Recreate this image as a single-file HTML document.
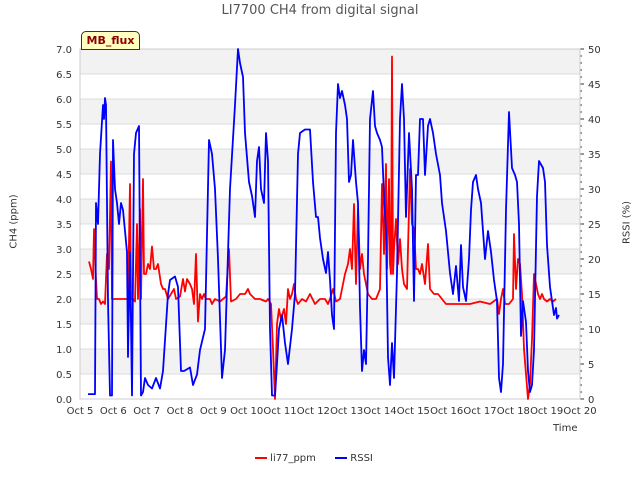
<!DOCTYPE html>
<html><head><meta charset="utf-8"><style>body{margin:0;background:#fff}svg{font-family:"DejaVu Sans","Liberation Sans",sans-serif}</style></head>
<body>
<svg id="c" width="640" height="480" xmlns="http://www.w3.org/2000/svg"></svg>
<script>
const xTickLabels=["Oct 5","Oct 6","Oct 7","Oct 8","Oct 9","Oct 10","Oct 11","Oct 12","Oct 13","Oct 14","Oct 15","Oct 16","Oct 17","Oct 18","Oct 19","Oct 20"];
const leftTicks=[0,0.5,1,1.5,2,2.5,3,3.5,4,4.5,5,5.5,6,6.5,7];
const rightTicks=[0,5,10,15,20,25,30,35,40,45,50];
const ch4Days=[0.27,0.33,0.39,0.42,0.48,0.51,0.57,0.63,0.69,0.75,0.81,0.87,0.93,0.96,1.02,1.14,1.26,1.38,1.44,1.5,1.53,1.59,1.65,1.71,1.74,1.8,1.83,1.89,1.92,1.98,2.04,2.1,2.16,2.22,2.28,2.34,2.43,2.49,2.55,2.64,2.73,2.82,2.88,3.0,3.09,3.15,3.21,3.3,3.36,3.42,3.48,3.54,3.6,3.66,3.72,3.78,3.9,3.96,4.05,4.2,4.38,4.47,4.53,4.68,4.8,4.95,5.04,5.1,5.25,5.4,5.58,5.64,5.73,5.79,5.85,5.91,5.97,6.03,6.12,6.18,6.24,6.3,6.36,6.42,6.48,6.54,6.66,6.78,6.9,7.05,7.2,7.35,7.44,7.5,7.59,7.68,7.8,7.95,8.04,8.1,8.16,8.22,8.28,8.34,8.4,8.46,8.52,8.58,8.64,8.76,8.88,9.0,9.06,9.12,9.18,9.21,9.27,9.3,9.33,9.36,9.39,9.42,9.48,9.54,9.6,9.66,9.72,9.81,9.9,9.96,10.02,10.08,10.14,10.2,10.26,10.35,10.44,10.5,10.62,10.74,10.86,10.98,11.16,11.4,11.7,12.0,12.3,12.51,12.57,12.63,12.69,12.75,12.87,12.99,13.02,13.08,13.14,13.2,13.26,13.32,13.38,13.44,13.5,13.56,13.62,13.68,13.74,13.8,13.86,13.92,14.01,14.1,14.19,14.28];
const ch4Vals=[2.75,2.6,2.4,3.4,2.4,2.0,2.0,1.9,1.95,1.9,2.9,2.6,4.75,2.0,2.0,2.0,2.0,2.0,2.0,4.3,2.0,2.0,1.95,3.5,2.0,3.8,2.0,4.4,2.5,2.5,2.7,2.6,3.05,2.6,2.6,2.7,2.3,2.2,2.2,2.0,2.1,2.2,2.0,2.05,2.4,2.15,2.4,2.3,2.2,1.9,2.9,1.55,2.1,2.0,2.1,2.0,2.0,1.9,2.0,1.95,2.05,3.0,1.95,2.0,2.1,2.1,2.2,2.1,2.0,2.0,1.95,2.0,1.9,1.0,0.0,1.5,1.8,1.6,1.8,1.5,2.2,2.0,2.1,2.3,2.0,1.9,2.0,1.95,2.1,1.9,2.0,2.0,1.9,2.0,2.2,1.95,2.0,2.5,2.7,3.0,2.6,3.9,2.3,3.8,2.6,2.9,2.5,2.3,2.1,2.0,2.0,2.2,4.3,2.9,4.7,2.6,4.4,2.7,2.5,6.85,2.5,3.0,3.6,2.7,3.2,2.6,2.3,2.2,4.6,3.5,3.4,2.6,2.6,2.5,2.7,2.3,3.1,2.2,2.1,2.1,2.0,1.9,1.9,1.9,1.9,1.95,1.9,2.0,1.7,2.0,2.2,1.9,1.9,2.0,3.3,2.2,2.8,2.7,2.1,1.0,0.5,0.0,0.3,1.2,2.5,2.3,2.1,2.0,2.1,2.0,1.95,2.0,1.95,2.0];
const rssiDays=[0.24,0.45,0.48,0.54,0.6,0.69,0.72,0.75,0.78,0.84,0.9,0.96,0.99,1.05,1.11,1.17,1.23,1.29,1.35,1.41,1.44,1.5,1.56,1.62,1.68,1.77,1.83,1.89,1.95,2.04,2.16,2.28,2.4,2.49,2.64,2.7,2.85,2.94,3.03,3.12,3.3,3.39,3.51,3.6,3.75,3.87,3.96,4.05,4.14,4.26,4.35,4.5,4.65,4.74,4.8,4.89,4.95,5.07,5.16,5.25,5.31,5.37,5.43,5.52,5.58,5.64,5.7,5.76,5.85,5.91,5.97,6.06,6.15,6.24,6.36,6.45,6.54,6.6,6.75,6.9,6.99,7.08,7.14,7.2,7.29,7.38,7.44,7.5,7.56,7.62,7.68,7.74,7.8,7.86,7.95,8.01,8.07,8.13,8.19,8.28,8.34,8.4,8.46,8.52,8.58,8.64,8.7,8.79,8.85,8.91,9.0,9.06,9.12,9.18,9.24,9.3,9.36,9.42,9.51,9.6,9.66,9.72,9.78,9.87,9.96,10.02,10.08,10.14,10.2,10.29,10.35,10.44,10.5,10.59,10.68,10.8,10.86,10.98,11.1,11.19,11.28,11.37,11.43,11.49,11.58,11.67,11.73,11.79,11.88,11.94,12.03,12.15,12.24,12.33,12.42,12.51,12.57,12.63,12.69,12.78,12.87,12.96,13.05,13.11,13.17,13.23,13.29,13.38,13.44,13.5,13.56,13.62,13.71,13.77,13.89,13.95,14.01,14.1,14.16,14.22,14.28,14.31,14.37];
const rssiVals=[0.7,0.7,28,25,35,42,40,43,42,14,0.5,0.5,37,30,28,25,28,27,24,21,6,21,0.5,35,38,39,0.5,1,3,2,1.5,3,1.5,4,15,17,17.5,16,4,4,4.5,2,3.5,7,10,37,35,30,20,3,7,30,42,50,48,46,38,31,29,26,34,36,30,28,38,34,10,0.5,0.5,5,10,12,8,5,10,15,35,38,38.5,38.5,31,26,26,23,20,18,21,17,12,10,38,45,43,44,42,40,31,32,37,31,28,13,4,7,5,20,40,44,39,38,37,36,29,24,6,2,8,3,18,40,45,40,26,38,30,14,32,32,40,40,32,39,40,38,35,32,28,24,18,15,19,14,22,16,14,20,27,31,32,30,28,20,24,21,17,14,3,1,5,27,41,33,32,31,25,9,14,11,4,1,2,7,29,34,33,31,22,16,14,12,13,11.5,12];

const svg=document.getElementById('c');const NS='http://www.w3.org/2000/svg';
const X0=80,X1=580,Y0=399,Y1=49;
const xs=d=>X0+d*(X1-X0)/15;
const yL=v=>Y0-v*(Y0-Y1)/7;
const yR=v=>Y0-v*(Y0-Y1)/50;
function el(t,a,txt){const e=document.createElementNS(NS,t);for(const k in a)e.setAttribute(k,a[k]);if(txt!==undefined)e.textContent=txt;svg.appendChild(e);return e;}
// bands
for(let i=0;i<14;i++){const e=el('rect',{x:X0,y:yL((i+1)*0.5),width:X1-X0,height:(Y0-Y1)/14,fill:i%2?'#f2f2f2':'#ffffff'});

}
leftTicks.forEach(v=>{const g=el('line',{x1:X0,x2:X1,y1:yL(v),y2:yL(v),stroke:'#dcdcdc','stroke-width':1});


const t=el('text',{x:X0-8,y:yL(v)+4,'text-anchor':'end','font-size':10,fill:'#333'},v.toFixed(1));

});
rightTicks.forEach(v=>{const t=el('text',{x:X1+8,y:yR(v)+4,'font-size':10,fill:'#333'},String(v));

});
for(let v=0;v<=50;v++){const m=el('line',{x1:X1,x2:X1+(v%5?2:4),y1:yR(v),y2:yR(v),stroke:'#333','stroke-width':1});

}
xTickLabels.forEach((s,i)=>{const t=el('text',{x:xs(i),y:Y0+15,'text-anchor':'middle','font-size':10,fill:'#333'},s);

});
const fr=el('rect',{x:X0,y:Y1,width:X1-X0,height:Y0-Y1,fill:'none',stroke:'#cccccc'});


function line(days,vals,ys,color,name){const p=days.map((d,i)=>(i?'L':'M')+xs(d).toFixed(1)+','+ys(vals[i]).toFixed(1)).join('');
const e=el('path',{d:p,fill:'none',stroke:color,'stroke-width':1.8,'stroke-linejoin':'round'});

}
line(ch4Days,ch4Vals,yL,'#ff0000','li77-ppm-line');
line(rssiDays,rssiVals,yR,'#0000ff','rssi-line');
</script>
<div style="position:absolute;left:0;top:0;width:640px;height:480px;pointer-events:none;font-family:'DejaVu Sans','Liberation Sans',sans-serif">
<div style="position:absolute;top:3px;width:640px;text-align:center;font-size:13px;color:#555">LI7700 CH4 from digital signal</div>
<div style="position:absolute;left:-16px;top:216px;width:60px;text-align:center;font-size:10px;color:#333;transform:rotate(-90deg)">CH4 (ppm)</div>
<div style="position:absolute;left:597px;top:217px;width:60px;text-align:center;font-size:10px;color:#333;transform:rotate(-90deg)">RSSI (%)</div>
<div style="position:absolute;left:553px;top:423px;font-size:10px;color:#333">Time</div>
<div style="position:absolute;left:81px;top:31px;width:57px;height:17px;background:#ffffc0;border:1px solid #333;border-radius:5px 5px 0 0;font-size:11px;font-weight:bold;color:#8b0000;text-align:center;line-height:17px">MB_flux</div>
<div style="position:absolute;top:453px;left:255px;font-size:10px;color:#333;white-space:nowrap">
<span><span style="display:inline-block;width:12px;height:2px;background:#f00;vertical-align:middle"></span> li77_ppm</span>
<span style="margin-left:16px"><span style="display:inline-block;width:12px;height:2px;background:#00f;vertical-align:middle"></span> RSSI</span>
</div></div>
</body></html>
